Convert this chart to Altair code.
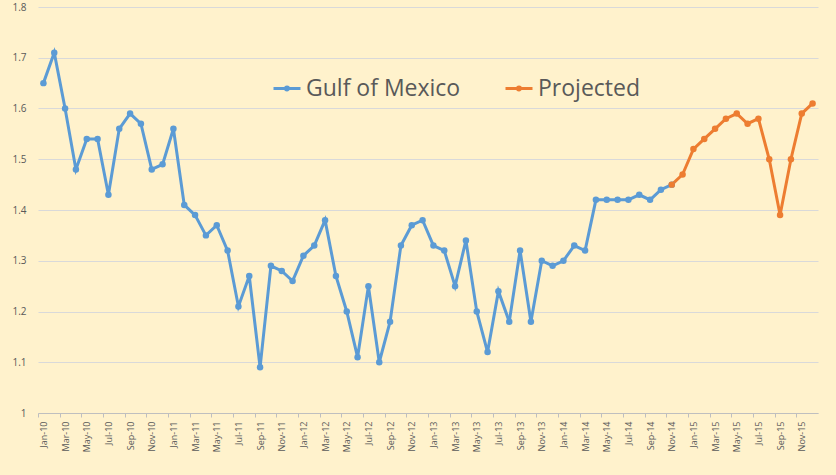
import altair as alt
import pandas as pd

month_names = ["Jan", "Feb", "Mar", "Apr", "May", "Jun",
               "Jul", "Aug", "Sep", "Oct", "Nov", "Dec"]
years = ["10", "11", "12", "13", "14", "15"]
months = [f"{m}-{y}" for y in years for m in month_names]

# Jan-10 .. Nov-14
gulf = [1.65, 1.71, 1.60, 1.48, 1.54, 1.54, 1.43, 1.56, 1.59, 1.57, 1.48, 1.49,
        1.56, 1.41, 1.39, 1.35, 1.37, 1.32, 1.21, 1.27, 1.09, 1.29, 1.28, 1.26,
        1.31, 1.33, 1.38, 1.27, 1.20, 1.11, 1.25, 1.10, 1.18, 1.33, 1.37, 1.38,
        1.33, 1.32, 1.25, 1.34, 1.20, 1.12, 1.24, 1.18, 1.32, 1.18, 1.30, 1.29,
        1.30, 1.33, 1.32, 1.42, 1.42, 1.42, 1.42, 1.43, 1.42, 1.44, 1.45]
# Nov-14 .. Dec-15
projected = [1.45, 1.47, 1.52, 1.54, 1.56, 1.58, 1.59, 1.57, 1.58, 1.50,
             1.39, 1.50, 1.59, 1.61]
projected_start = months.index("Nov-14")

series_names = ["Gulf of Mexico", "Projected"]
series_colors = ["#5B9BD5", "#ED7D31"]
y_ticks = [1.0, 1.1, 1.2, 1.3, 1.4, 1.5, 1.6, 1.7, 1.8]

rows = []
for i, v in enumerate(gulf):
    rows.append({"idx": i, "value": v, "series": series_names[0]})
for j, v in enumerate(projected):
    rows.append({"idx": projected_start + j, "value": v, "series": series_names[1]})
df = pd.DataFrame(rows)

W, H = 780, 406
half_band = W / len(months) / 2
label_expr = "[" + ",".join(f"'{m}'" for m in months) + "][datum.value]"

FONT = "Open Sans"
TXT = "#595959"
GRID = "#D9D9D9"

legend_symbol = ("M-1,0L1,0M0.111,0A0.111,0.111,0,1,1,-0.111,0"
                 "A0.111,0.111,0,1,1,0.111,0")

chart = alt.Chart(df).mark_line(
    strokeWidth=3,
    point=alt.OverlayMarkDef(filled=True, size=42),
).encode(
    x=alt.X("idx:Q",
            scale=alt.Scale(domain=[-0.5, len(months) - 0.5], nice=False, zero=False),
            axis=alt.Axis(values=list(range(0, len(months), 2)),
                          labelExpr=label_expr, labelAngle=-90,
                          tickOffset=-half_band, labelOffset=half_band,
                          grid=False, title=None,
                          domainColor="#BFBFBF", tickColor="#BFBFBF",
                          tickSize=4, labelPadding=4,
                          labelFont=FONT, labelFontSize=9, labelColor=TXT)),
    y=alt.Y("value:Q",
            scale=alt.Scale(domain=[1.0, 1.8], nice=False, zero=False),
            axis=alt.Axis(values=y_ticks, format=".1~f", ticks=False, domain=False,
                          grid=True, gridColor=GRID, gridWidth=1, title=None,
                          labelPadding=12, labelFont=FONT, labelFontSize=10,
                          labelColor=TXT)),
    color=alt.Color("series:N",
                    scale=alt.Scale(domain=series_names, range=series_colors),
                    legend=alt.Legend(orient="none", legendX=234, legendY=66.5,
                                      direction="horizontal", title=None,
                                      padding=0, columnPadding=38,
                                      symbolType=legend_symbol, symbolSize=729,
                                      symbolStrokeWidth=3, labelOffset=4,
                                      labelFont=FONT, labelFontSize=23,
                                      labelColor=TXT, labelLimit=400)),
).properties(
    width=W, height=H,
    autosize=alt.AutoSizeParams(type="none"),
    padding={"left": 38, "top": 7, "right": 18, "bottom": 62},
    background="#FFF2CC",
).configure_view(stroke=None)

chart.save("out.html", embed_options={"renderer": "svg", "actions": False})
